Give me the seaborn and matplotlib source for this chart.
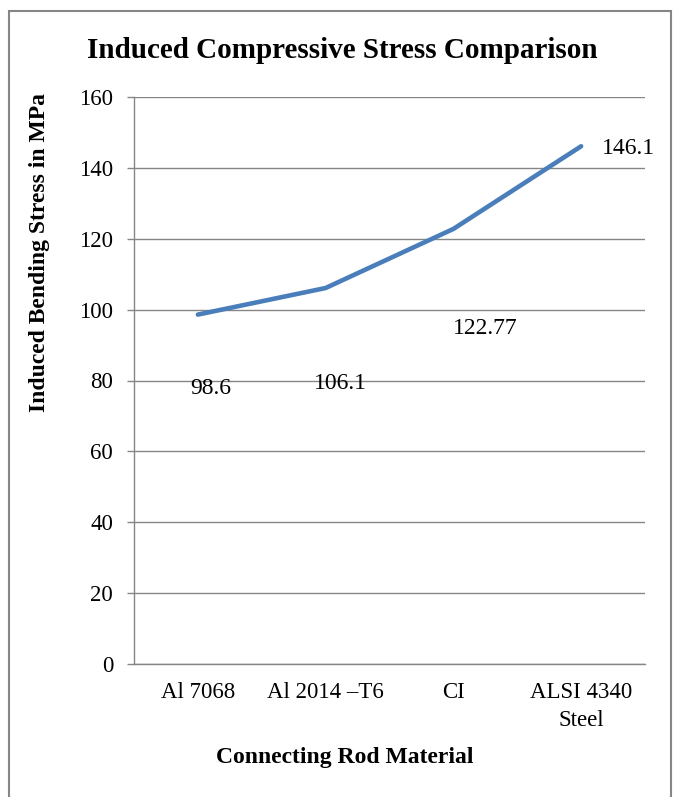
import matplotlib.pyplot as plt
import matplotlib.patches as mpatches
import pandas as pd
import seaborn as sns

# dados do grafico
materiais = ["Al 7068", "Al 2014 \u2013T6", "CI", "ALSI 4340\nSteel"]
tensoes = [98.6, 106.1, 122.77, 146.1]
rotulos = ["98.6", "106.1", "122.77", "146.1"]
y_ticks = [0, 20, 40, 60, 80, 100, 120, 140, 160]

# deslocamento dos rotulos (pixels) como no original
deslocamentos = [(13, -74), (15, -95), (32, -100), (47, -2)]

sns.set_style("white")
plt.rcParams["font.family"] = ["Liberation Serif", "DejaVu Serif"]
plt.rcParams["text.color"] = "black"
plt.rcParams["xtick.color"] = "black"
plt.rcParams["ytick.color"] = "black"

base = pd.DataFrame({"material": materiais, "tensao": tensoes})

fig = plt.figure(figsize=(6.74, 7.97), dpi=100)
ax = fig.add_axes([134 / 674, 1 - 664 / 797, 511 / 674, 567 / 797])

sns.lineplot(data=base, x="material", y="tensao", ax=ax,
             color="#4A7EBB", linewidth=3.3, sort=False)

ax.set_ylim(0, 160)
ax.set_xlim(-0.5, 3.5)
ax.set_yticks(y_ticks)
ax.set_yticklabels([str(t) for t in y_ticks])
ax.set_xticks(range(len(materiais)))
ax.set_xticklabels(materiais, linespacing=1.45)
ax.tick_params(axis="x", length=0, pad=13, labelsize=16.5, labelcolor="black")
ax.tick_params(axis="y", length=5, width=1, color="#868686", pad=10,
               direction="out", left=True, labelsize=16.5, labelcolor="black")
ax.yaxis.grid(True, color="#868686", linewidth=1)
ax.set_axisbelow(True)

for lado in ["top", "right"]:
    ax.spines[lado].set_visible(False)
for lado in ["left", "bottom"]:
    ax.spines[lado].set_color("#868686")
    ax.spines[lado].set_linewidth(1)

ax.set_xlabel("")
ax.set_ylabel("")

for i, (v, r) in enumerate(zip(tensoes, rotulos)):
    ax.annotate(r, xy=(i, v), xytext=deslocamentos[i], textcoords="offset pixels",
                ha="center", va="center", fontsize=17, color="black")

fig.text(342 / 674, 1 - 50 / 797, "Induced Compressive Stress Comparison",
         ha="center", va="center", fontsize=21, fontweight="bold", color="black")
fig.text(40 / 674, 1 - 252 / 797, "Induced Bending Stress in MPa",
         ha="center", va="center", rotation=90, fontsize=17, fontweight="bold", color="black")
fig.text(345 / 674, 1 - 758 / 797, "Connecting Rod Material",
         ha="center", va="center", fontsize=17, fontweight="bold", color="black")

# moldura externa
moldura = mpatches.Rectangle((8.5 / 674, -0.05), (671 - 8.5) / 674, 1.05 - 10.5 / 797,
                             transform=fig.transFigure, fill=False,
                             edgecolor="#868686", linewidth=1.5, clip_on=False)
fig.add_artist(moldura)

fig.savefig("out.png", dpi=100)
